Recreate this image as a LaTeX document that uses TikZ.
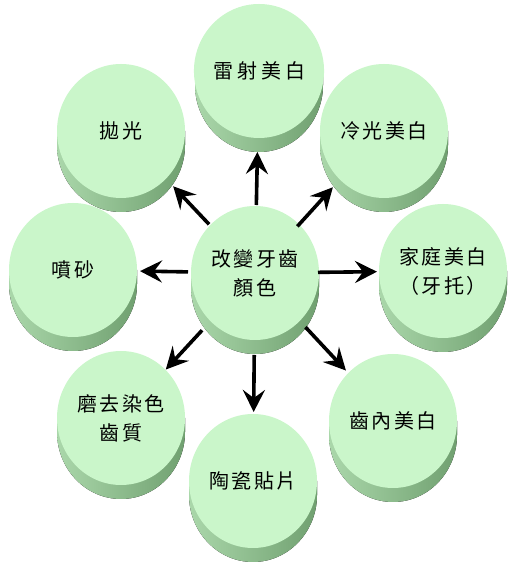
\documentclass[tikz,border=0pt]{standalone}
\usepackage{fontspec}
\newfontfamily\cjk[LetterSpace=12]{Noto Sans CJK TC}
\usetikzlibrary{calc,shapes.geometric,arrows.meta}
\definecolor{facegreen}{RGB}{202,246,202}
\definecolor{sidelight}{RGB}{170,215,170}
\definecolor{sidedark}{RGB}{112,160,112}
\tikzset{
  face/.style={ellipse, fill=facegreen, minimum width=128pt, minimum height=134pt,
    inner sep=0pt, align=center, font=\cjk\fontsize{20}{29}\selectfont},
  sideband/.style={left color=sidelight, right color=sidedark},
  arr/.style={line width=3.6pt, -{Stealth[length=22pt,width=22pt,inset=8pt]}},
}
\newcommand\mycyl[3]{%
  \fill[sideband] ($(#2)+(-64,0)$) -- ++(0,-14)
     arc[start angle=180,end angle=360,x radius=64,y radius=67] -- ++(0,14) -- cycle;
  \node[face] (#1) at (#2) {#3};
}
\begin{document}
\begin{tikzpicture}[x=1pt,y=1pt]
\useasboundingbox (0,0) rectangle (520,577);
\mycyl{c0}{255,304}{改變牙齒\\顏色}
\mycyl{c1}{259,506}{雷\hspace{4pt}射\hspace{4pt}美\hspace{4pt}白}
\mycyl{c2}{384,446}{冷光美白}
\mycyl{c3}{443,306}{家庭美白\\（牙托）}
\mycyl{c4}{393,156}{齒內美白}
\mycyl{c5}{253,96}{陶瓷貼片}
\mycyl{c6}{121,159}{磨去染色\\齒質}
\mycyl{c7}{73,307}{噴砂}
\mycyl{c8}{121,446}{拋光}
\draw[arr] ($(c0)!68pt!(c1)$) -- ($(c1)!81pt!(c0)$);
\draw[arr] ($(c0)!63pt!(c2)$) -- ($(c2)!76pt!(c0)$);
\draw[arr] ($(c0)!63pt!(c3)$) -- ($(c3)!66pt!(c0)$);
\draw[arr] ($(c0)!74pt!(c4)$) -- ($(c4)!69pt!(c0)$);
\draw[arr] ($(c0)!82pt!(c5)$) -- ($(c5)!69pt!(c0)$);
\draw[arr] ($(c0)!78pt!(c6)$) -- ($(c6)!66pt!(c0)$);
\draw[arr] ($(c0)!67pt!(c7)$) -- ($(c7)!67pt!(c0)$);
\draw[arr] ($(c0)!67pt!(c8)$) -- ($(c8)!76pt!(c0)$);
\end{tikzpicture}
\end{document}
